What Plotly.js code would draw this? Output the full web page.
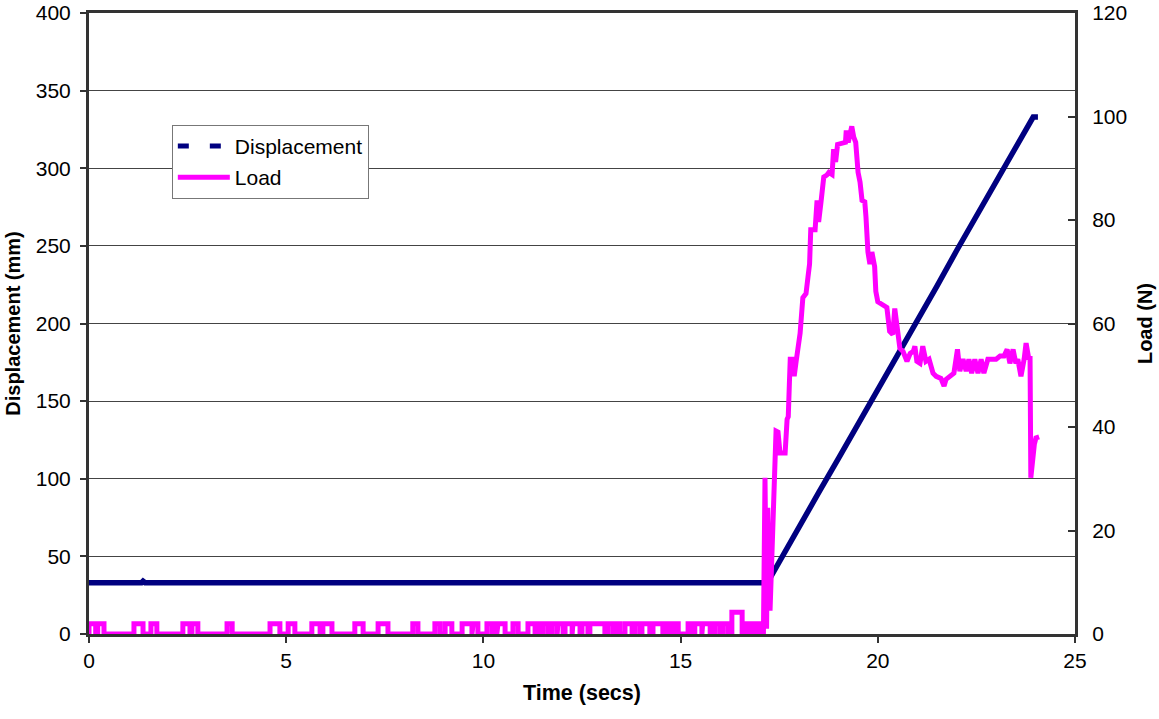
<!DOCTYPE html>
<html>
<head>
<meta charset="utf-8">
<script src="https://cdn.plot.ly/plotly-3.0.1.min.js"></script>
<style>
  html, body { margin: 0; padding: 0; background: #fff; }
  #chart { width: 1159px; height: 719px; }
</style>
</head>
<body>
<div id="chart"></div>
<script>
// ---- Displacement (mm) vs time (s), left axis ----
const dispTime  = [0, 1.33, 1.37, 1.42, 17.2, 17.5, 18.0, 18.5, 19.0, 19.5, 20.0, 20.5, 21.0, 21.5, 22.0, 22.5, 23.0, 23.5, 23.94, 24.06];
const dispValue = [33, 33, 34, 33, 33, 46, 69, 91, 113, 135, 158, 180, 202, 224, 247, 269, 291, 313, 333, 333];

// ---- Load (N) vs time (s), right axis ----
// small noise pulses before the test starts (start time, end time, level N)
const pulseStart = [0.00, 0.22, 1.14, 1.57, 2.38, 2.61, 3.50, 4.59, 5.05, 5.65, 5.93, 6.74, 7.33, 8.21, 8.77, 9.03, 9.46, 9.74, 10.09, 10.27, 10.37, 10.75, 11.13, 11.36, 11.51, 11.74, 11.89, 12.07, 12.27, 12.50, 12.70, 13.16, 13.34, 13.59, 13.84, 14.02, 14.30, 14.66, 14.86, 15.19, 15.36, 15.56, 15.87, 16.07, 16.30, 16.63, 16.81, 16.96];
const pulseEnd   = [0.17, 0.38, 1.37, 1.72, 2.56, 2.76, 3.63, 4.84, 5.22, 5.86, 6.16, 6.95, 7.58, 8.34, 8.90, 9.20, 9.71, 9.86, 10.22, 10.34, 10.55, 10.88, 11.31, 11.46, 11.64, 11.87, 12.02, 12.25, 12.45, 12.65, 13.08, 13.29, 13.46, 13.77, 13.97, 14.22, 14.55, 14.78, 14.94, 15.29, 15.54, 15.75, 16.00, 16.20, 16.56, 16.71, 16.89, 17.06];
const pulseLevel = [2, 2, 2, 2, 2, 2, 2, 2, 2, 2, 2, 2, 2, 2, 2, 2, 2, 2, 2, 2, 2, 2, 2, 2, 2, 2, 2, 2, 2, 2, 2, 2, 2, 2, 2, 2, 2, 2, 2, 2, 2, 2, 2, 2, 4.2, 2, 2, 2];

// loading phase
const riseTime = [17.10, 17.14, 17.18, 17.21, 17.24, 17.27, 17.42, 17.47, 17.52, 17.65, 17.70, 17.73, 17.76, 17.78, 17.84, 17.88, 17.93, 18.03, 18.10, 18.18, 18.23, 18.27, 18.30, 18.41, 18.46, 18.50, 18.56, 18.63, 18.71, 18.76, 18.84, 18.88, 18.93, 18.98, 19.18, 19.20, 19.25, 19.30, 19.34, 19.39, 19.44, 19.50, 19.55, 19.60, 19.67, 19.70, 19.75, 19.80, 19.85, 19.92, 19.95, 20.00, 20.10, 20.16, 20.23, 20.30, 20.38, 20.43, 20.49, 20.56, 20.64, 20.69, 20.74, 20.82, 20.90, 20.94, 20.99, 21.07, 21.14, 21.22, 21.30, 21.40, 21.48, 21.60, 21.68, 21.73, 21.83, 21.93, 22.02, 22.08, 22.16, 22.24, 22.31, 22.38, 22.46, 22.54, 22.62, 22.69, 22.79, 22.90, 23.00, 23.10, 23.20, 23.28, 23.35, 23.43, 23.50, 23.55, 23.63, 23.71, 23.76, 23.83, 23.86, 23.88, 23.94, 23.97, 24.01, 24.09];
const riseLoad = [0, 30.2, 1, 24.4, 5, 5, 39.2, 39, 35, 35, 41.5, 42, 48.8, 53.1, 53.1, 49.8, 52.7, 58.1, 65, 65.8, 69, 71.5, 78.1, 78.1, 83.8, 79.6, 83.5, 88.3, 88.7, 89.2, 88.8, 93.7, 91.2, 94.6, 95, 97.3, 95, 97.3, 98.1, 96, 95, 89.2, 87.3, 83.8, 83.5, 80.6, 73.8, 71.5, 73.8, 71, 66.2, 64.2, 63.8, 63.3, 63.1, 58.5, 57.9, 62.9, 58.5, 55.2, 54.6, 53.3, 52.7, 54.2, 54.6, 55.6, 52.7, 52.3, 55.6, 52.7, 53.1, 50.4, 49.8, 49.4, 47.9, 49.2, 49.8, 50.4, 55, 50.8, 53.1, 50.8, 53.1, 50.4, 53.1, 50.4, 53.1, 50.4, 53.1, 53.1, 53.1, 53.7, 53.7, 55, 52.3, 55, 52.3, 53.1, 49.8, 53.1, 56.2, 53.1, 53.7, 30.2, 35.8, 36.7, 37.9, 38.1];

// build the load line (step pulses + loading phase)
const loadTime = [], loadValue = [];
for (let i = 0; i < pulseStart.length; i++) {
  loadTime.push(pulseStart[i], pulseStart[i], pulseEnd[i], pulseEnd[i]);
  loadValue.push(0, pulseLevel[i], pulseLevel[i], 0);
}
for (let i = 0; i < riseTime.length; i++) {
  loadTime.push(riseTime[i]);
  loadValue.push(riseLoad[i]);
}

const NAVY = '#000080', MAGENTA = '#FF00FF', AX = '#333333';
const FONT = 'Liberation Sans, Arial, Helvetica, sans-serif';

const traces = [
  { // legend entry only (dashed sample like the original)
    x: [null], y: [null], type: 'scatter', mode: 'lines', name: 'Displacement',
    line: { color: NAVY, width: 5, dash: '11px,21px' }, legendgroup: 'd', yaxis: 'y'
  },
  {
    x: dispTime, y: dispValue, type: 'scatter', mode: 'lines', name: 'Displacement',
    line: { color: NAVY, width: 5.5 }, showlegend: false, legendgroup: 'd', yaxis: 'y', hoverinfo: 'x+y'
  },
  {
    x: loadTime, y: loadValue, type: 'scatter', mode: 'lines', name: 'Load',
    line: { color: MAGENTA, width: 5 }, legendgroup: 'l', yaxis: 'y2'
  }
];

const layout = {
  width: 1159, height: 719,
  margin: { l: 89, r: 84, t: 13, b: 85 },
  paper_bgcolor: '#ffffff', plot_bgcolor: '#ffffff',
  font: { family: FONT, size: 21, color: '#000' },
  showlegend: true,
  legend: {
    x: 0.084, y: 0.82, xanchor: 'left', yanchor: 'top',
    bgcolor: '#ffffff', bordercolor: '#777777', borderwidth: 1,
    font: { family: FONT, size: 21, color: '#000' },
    traceorder: 'grouped', tracegroupgap: 1, itemwidth: 52
  },
  xaxis: {
    range: [0, 25], tick0: 0, dtick: 5,
    showgrid: false, zeroline: false,
    showline: true, mirror: true, linecolor: AX, linewidth: 3,
    ticks: 'outside', ticklen: 6, tickwidth: 2, tickcolor: AX,
    tickfont: { family: FONT, size: 21 },
    ticklabeloverflow: 'allow',
    title: { text: 'Time (secs)', font: { family: FONT, size: 21.5, weight: 'bold' }, standoff: 14 }
  },
  yaxis: {
    range: [0, 400], tick0: 0, dtick: 50,
    showgrid: true, gridcolor: '#444444', gridwidth: 1, zeroline: false,
    showline: true, linecolor: AX, linewidth: 3,
    ticks: 'outside', ticklen: 6, tickwidth: 2, tickcolor: AX,
    tickfont: { family: FONT, size: 21 },
    ticklabeloverflow: 'allow', ticklabelstandoff: 5,
    title: { text: 'Displacement (mm)', font: { family: FONT, size: 20, weight: 'bold' }, standoff: 10 }
  },
  yaxis2: {
    overlaying: 'y', side: 'right',
    range: [0, 120], tick0: 0, dtick: 20,
    showgrid: false, zeroline: false,
    showline: true, linecolor: AX, linewidth: 3,
    ticks: 'inside', ticklen: 7, tickwidth: 2, tickcolor: AX,
    tickfont: { family: FONT, size: 21 },
    ticklabeloverflow: 'allow', ticklabelstandoff: 10,
    title: { text: 'Load (N)', font: { family: FONT, size: 20, weight: 'bold' }, standoff: 12 }
  }
};

Plotly.newPlot('chart', traces, layout, { displayModeBar: false, staticPlot: true });
</script>
</body>
</html>
